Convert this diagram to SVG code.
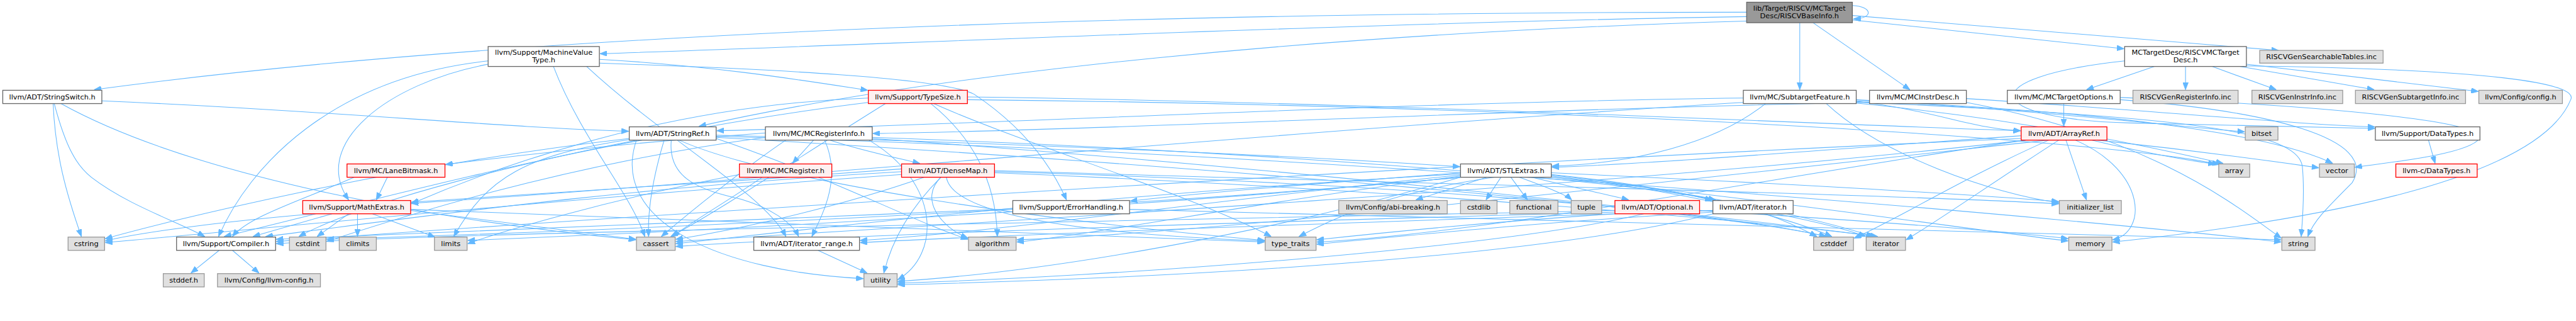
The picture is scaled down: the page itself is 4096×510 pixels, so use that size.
<svg xmlns="http://www.w3.org/2000/svg" width="4096" height="510" viewBox="0 0 4096 510">
<defs>
<marker id="ah" viewBox="0 0 13 10" refX="13" refY="5" markerWidth="13" markerHeight="10" markerUnits="userSpaceOnUse" orient="auto"><path d="M0,0L13,5L0,10z" fill="#63b8ff" stroke="#63b8ff" stroke-width="1"/></marker>
</defs>
<style>
.e path{fill:none;stroke:#63b8ff;stroke-width:1.2;marker-end:url(#ah)}
.nd rect{fill:#ffffff;stroke:#666666;stroke-width:1.5}
.ex rect{fill:#e0e0e0;stroke:#999999;stroke-width:1.5}
.rd rect{fill:#fff0f0;stroke:#ff0000;stroke-width:1.5}
.rt rect{fill:#999999;stroke:#666666;stroke-width:1.5}
text{font-family:"DejaVu Sans","Liberation Sans",sans-serif;font-size:12.9px;fill:#000000;text-anchor:middle}
</style>
<rect width="4096" height="510" fill="#ffffff"/>
<g transform="scale(0.88)">
<g id="edges" class="e">
<path d="M3156,22 C2200,22 1000,50 170,162"/>
<path d="M3156,30 C2500,40 1600,80 1084,97"/>
<path d="M3156,38 C2400,60 1700,130 1263,228"/>
<path d="M3252,41 L3252,162"/>
<path d="M3276,41 L3451,162"/>
<path d="M3347,36 L3838,88"/>
<path d="M3347,28 L4117,91"/>
<path d="M3347,10 C3385,12 3385,34 3349,34"/>
<path d="M4059,116 L4478,165"/>
<path d="M3949,120 L3949,162"/>
<path d="M3997,120 L4113,162"/>
<path d="M4047,120 L4290,162"/>
<path d="M3893,120 L3770,162"/>
<path d="M3839,110 C3560,140 3580,215 3850,222 S4200,229 4291,232"/>
<path d="M4059,119 C4500,125 4660,150 4645,180 C4600,290 4350,380 3817,437"/>
<path d="M184,182 C600,200 900,230 1136,237"/>
<path d="M98,187 C120,270 140,300 165,320 C230,370 320,400 370,427"/>
<path d="M110,187 C350,320 800,400 1149,433"/>
<path d="M96,187 C100,280 120,350 147,427"/>
<path d="M1083,107 C1300,120 1450,145 1568,163"/>
<path d="M1083,114 C1400,125 1700,140 1760,170 C1850,230 1900,300 1927,361"/>
<path d="M882,110 C600,140 450,300 395,427"/>
<path d="M882,116 C700,150 560,260 630,361"/>
<path d="M1000,120 C1050,250 1140,350 1165,427"/>
<path d="M1060,120 C1200,250 1380,350 1420,427"/>
<path d="M1748,175 C2500,185 3300,225 3651,236"/>
<path d="M1569,177 C1200,190 900,300 743,368"/>
<path d="M1682,187 C1760,250 1800,330 1802,427"/>
<path d="M1748,180 C2800,190 3800,250 4010,297"/>
<path d="M1600,187 C1450,280 1300,380 1212,427"/>
<path d="M1569,185 C1200,230 700,340 540,427"/>
<path d="M1687,187 C1850,260 2150,350 2297,427"/>
<path d="M1294,244 C1900,260 2400,285 2638,301"/>
<path d="M1213,253 C1205,330 1280,345 1340,360 C1390,375 1430,400 1443,427"/>
<path d="M1160,253 C900,300 600,380 405,427"/>
<path d="M1294,250 C1500,320 1650,400 1749,432"/>
<path d="M1200,253 C1180,320 1170,380 1172,427"/>
<path d="M1294,248 C2200,300 3100,380 3300,427"/>
<path d="M1137,250 C700,300 300,400 190,431"/>
<path d="M1137,252 C950,280 880,320 820,427"/>
<path d="M1294,246 C2500,280 3800,400 4122,437"/>
<path d="M1227,253 C1400,330 1900,400 2285,434"/>
<path d="M1150,253 C1100,400 1300,490 1560,503"/>
<path d="M1500,253 C1550,270 1620,285 1662,295"/>
<path d="M1576,248 C2200,270 2900,320 3100,361"/>
<path d="M1490,253 C1520,320 1490,380 1467,427"/>
<path d="M1383,240 C1100,260 900,285 805,297"/>
<path d="M1470,253 L1432,295"/>
<path d="M1420,253 C1350,300 1250,380 1195,427"/>
<path d="M1383,248 C1000,300 700,400 590,436"/>
<path d="M1576,250 C2300,300 3100,390 3393,427"/>
<path d="M1570,253 C1700,330 1700,460 1622,505"/>
<path d="M3652,245 C3300,270 3000,295 2804,302"/>
<path d="M3652,250 C2500,300 1000,400 499,436"/>
<path d="M3700,253 C3000,330 2200,420 1837,433"/>
<path d="M3780,253 C3850,270 3950,290 4003,296"/>
<path d="M3660,253 C3000,330 1800,400 1221,436"/>
<path d="M3702,253 C3550,320 3420,400 3350,430"/>
<path d="M3733,253 L3770,361"/>
<path d="M3720,253 C3600,330 3500,400 3444,433"/>
<path d="M3750,253 C3880,310 3880,420 3817,433"/>
<path d="M3660,253 C3200,320 2700,420 2379,437"/>
<path d="M3790,253 C3950,270 4100,290 4190,303"/>
<path d="M4388,253 L4400,295"/>
<path d="M640,320 C550,360 450,390 420,427"/>
<path d="M700,320 L680,361"/>
<path d="M1377,320 C1320,360 1250,400 1215,427"/>
<path d="M1336,315 C1100,360 900,420 845,440"/>
<path d="M1629,310 C1100,340 700,400 480,427"/>
<path d="M1629,305 C1300,330 900,355 743,365"/>
<path d="M1700,320 C1660,360 1700,410 1749,430"/>
<path d="M1670,320 C1500,380 1300,420 1221,432"/>
<path d="M1797,310 C2500,330 3100,380 3300,427"/>
<path d="M1629,315 C1000,360 400,420 190,438"/>
<path d="M1797,308 C2500,330 3400,350 3720,368"/>
<path d="M1797,312 C2500,340 3200,400 3390,427"/>
<path d="M1710,320 C1720,380 1900,420 2285,435"/>
<path d="M1700,320 C1640,380 1610,440 1597,493"/>
<path d="M2767,320 C2850,340 2920,355 2943,361"/>
<path d="M2803,315 C2950,330 3050,350 3094,362"/>
<path d="M2639,316 C2200,360 1800,420 1554,434"/>
<path d="M2687,320 L2558,361"/>
<path d="M2639,312 C2400,330 2200,345 2042,363"/>
<path d="M2639,318 C2300,360 2000,420 1837,437"/>
<path d="M2639,314 C2000,350 1500,410 1221,440"/>
<path d="M2803,318 C3000,340 3200,380 3310,427"/>
<path d="M2639,320 C2000,380 1000,420 590,432"/>
<path d="M2712,320 L2685,361"/>
<path d="M2730,320 L2760,361"/>
<path d="M2803,312 C3200,330 3550,350 3720,364"/>
<path d="M2803,316 C3100,350 3300,400 3385,427"/>
<path d="M2639,320 C2000,380 1200,420 845,434"/>
<path d="M2803,320 C3200,360 3600,420 3737,435"/>
<path d="M2745,320 C2800,340 2830,352 2840,361"/>
<path d="M2700,320 C2500,350 2420,390 2347,427"/>
<path d="M2639,320 C2300,420 1900,490 1622,508"/>
<path d="M600,386 C550,400 500,415 457,427"/>
<path d="M742,380 C900,400 1050,420 1149,432"/>
<path d="M646,386 L646,427"/>
<path d="M630,386 L573,427"/>
<path d="M567,386 C400,400 250,420 190,435"/>
<path d="M673,386 L786,428"/>
<path d="M742,378 C1300,400 1900,420 2285,437"/>
<path d="M1830,377 C1300,400 700,420 499,432"/>
<path d="M2041,378 C3000,400 3800,420 4122,433"/>
<path d="M2918,380 C2000,400 800,420 499,440"/>
<path d="M2918,383 C2300,400 1600,420 1221,445"/>
<path d="M3071,380 C3400,400 3650,420 3737,431"/>
<path d="M2918,386 C2700,400 2500,420 2379,433"/>
<path d="M2970,386 C2700,450 2000,500 1622,511"/>
<path d="M3095,380 C2500,400 1900,420 1554,438"/>
<path d="M3190,386 C3230,400 3260,415 3283,427"/>
<path d="M3210,386 C3280,400 3340,415 3371,427"/>
<path d="M3095,383 C2800,400 2600,420 2379,441"/>
<path d="M3095,386 C2800,460 2200,500 1622,514"/>
<path d="M1478,452 L1567,493"/>
<path d="M396,452 L345,493"/>
<path d="M420,452 L468,493"/>
<path d="M3729,187 L3729,228"/>
<path d="M3831,180 C4100,200 4300,250 4250,330 C4200,380 4180,400 4170,427"/>
<path d="M3831,176 C4200,190 4500,220 4480,250 C4460,280 4300,295 4255,302"/>
<path d="M3150,177 C2500,185 1800,225 1295,236"/>
<path d="M3354,183 C3500,200 3560,232 3651,236"/>
<path d="M3190,187 C3100,260 2950,295 2804,300"/>
<path d="M3150,185 C2400,230 1200,340 743,367"/>
<path d="M3354,186 C3700,220 3950,280 4017,295"/>
<path d="M3354,180 C3700,200 3950,230 4056,238"/>
<path d="M3300,187 C3400,280 3600,350 3720,366"/>
<path d="M3354,184 C3900,210 4150,230 4160,300 C4165,350 4160,400 4158,427"/>
<path d="M3354,182 C3800,200 4100,240 4215,295"/>
<path d="M3378,185 C2800,195 2000,235 1577,241"/>
<path d="M3553,178 C3900,200 4150,225 4291,229"/>
<path d="M3553,185 C3900,250 4050,380 4122,430"/>
</g>
<g id="n_root" class="rt"><rect x="3156" y="4" width="191" height="37"/><text x="3251.5" y="19">lib/Target/RISCV/MCTarget</text><text x="3251.5" y="32.5">Desc/RISCVBaseInfo.h</text></g>
<g id="n_stringswitch" class="nd"><rect x="5" y="163" width="179" height="24"/><text x="94.5" y="179.5">llvm/ADT/StringSwitch.h</text></g>
<g id="n_mvt" class="nd"><rect x="882" y="84" width="201" height="36"/><text x="982.5" y="99">llvm/Support/MachineValue</text><text x="982.5" y="112.5">Type.h</text></g>
<g id="n_mctargetdesc" class="nd"><rect x="3839" y="84" width="220" height="36"/><text x="3949" y="99">MCTargetDesc/RISCVMCTarget</text><text x="3949" y="112.5">Desc.h</text></g>
<g id="n_searchable" class="ex"><rect x="4083" y="91" width="223" height="23"/><text x="4194.5" y="107">RISCVGenSearchableTables.inc</text></g>
<g id="n_typesize" class="rd"><rect x="1569" y="163" width="179" height="24"/><text x="1658.5" y="179.5">llvm/Support/TypeSize.h</text></g>
<g id="n_subtargetfeature" class="nd"><rect x="3150" y="163" width="204" height="24"/><text x="3252" y="179.5">llvm/MC/SubtargetFeature.h</text></g>
<g id="n_mcinstrdesc" class="nd"><rect x="3378" y="163" width="175" height="24"/><text x="3465.5" y="179.5">llvm/MC/MCInstrDesc.h</text></g>
<g id="n_mctargetoptions" class="nd"><rect x="3627" y="163" width="204" height="24"/><text x="3729" y="179.5">llvm/MC/MCTargetOptions.h</text></g>
<g id="n_genreg" class="ex"><rect x="3854" y="163" width="190" height="24"/><text x="3949" y="179.5">RISCVGenRegisterInfo.inc</text></g>
<g id="n_geninstr" class="ex"><rect x="4069" y="163" width="164" height="24"/><text x="4151" y="179.5">RISCVGenInstrInfo.inc</text></g>
<g id="n_gensub" class="ex"><rect x="4256" y="163" width="199" height="24"/><text x="4355.5" y="179.5">RISCVGenSubtargetInfo.inc</text></g>
<g id="n_config" class="ex"><rect x="4479" y="163" width="151" height="24"/><text x="4554.5" y="179.5">llvm/Config/config.h</text></g>
<g id="n_stringref" class="nd"><rect x="1137" y="229" width="157" height="24"/><text x="1215.5" y="245.5">llvm/ADT/StringRef.h</text></g>
<g id="n_mcreginfo" class="nd"><rect x="1383" y="229" width="193" height="24"/><text x="1479.5" y="245.5">llvm/MC/MCRegisterInfo.h</text></g>
<g id="n_arrayref" class="rd"><rect x="3652" y="229" width="155" height="24"/><text x="3729.5" y="245.5">llvm/ADT/ArrayRef.h</text></g>
<g id="n_bitset" class="ex"><rect x="4057" y="229" width="59" height="24"/><text x="4086.5" y="245.5">bitset</text></g>
<g id="n_datatypes" class="nd"><rect x="4292" y="229" width="189" height="24"/><text x="4386.5" y="245.5">llvm/Support/DataTypes.h</text></g>
<g id="n_lanebitmask" class="rd"><rect x="627" y="296" width="177" height="24"/><text x="715.5" y="312.5">llvm/MC/LaneBitmask.h</text></g>
<g id="n_mcregister" class="rd"><rect x="1336" y="296" width="167" height="24"/><text x="1419.5" y="312.5">llvm/MC/MCRegister.h</text></g>
<g id="n_densemap" class="rd"><rect x="1629" y="296" width="168" height="24"/><text x="1713" y="312.5">llvm/ADT/DenseMap.h</text></g>
<g id="n_stlextras" class="nd"><rect x="2639" y="296" width="164" height="24"/><text x="2721" y="312.5">llvm/ADT/STLExtras.h</text></g>
<g id="n_array" class="ex"><rect x="4009" y="296" width="56" height="24"/><text x="4037" y="312.5">array</text></g>
<g id="n_vector" class="ex"><rect x="4191" y="296" width="63" height="24"/><text x="4222.5" y="312.5">vector</text></g>
<g id="n_cdatatypes" class="rd"><rect x="4329" y="296" width="147" height="24"/><text x="4402.5" y="312.5">llvm-c/DataTypes.h</text></g>
<g id="n_mathextras" class="rd"><rect x="547" y="362" width="195" height="24"/><text x="644.5" y="378.5">llvm/Support/MathExtras.h</text></g>
<g id="n_errorhandling" class="nd"><rect x="1830" y="362" width="211" height="24"/><text x="1935.5" y="378.5">llvm/Support/ErrorHandling.h</text></g>
<g id="n_abibreaking" class="ex"><rect x="2419" y="362" width="196" height="24"/><text x="2517" y="378.5">llvm/Config/abi-breaking.h</text></g>
<g id="n_cstdlib" class="ex"><rect x="2639" y="362" width="66" height="24"/><text x="2672" y="378.5">cstdlib</text></g>
<g id="n_functional" class="ex"><rect x="2728" y="362" width="87" height="24"/><text x="2771.5" y="378.5">functional</text></g>
<g id="n_tuple" class="ex"><rect x="2839" y="362" width="55" height="24"/><text x="2866.5" y="378.5">tuple</text></g>
<g id="n_optional" class="rd"><rect x="2918" y="362" width="153" height="24"/><text x="2994.5" y="378.5">llvm/ADT/Optional.h</text></g>
<g id="n_iteratorh" class="nd"><rect x="3095" y="362" width="145" height="24"/><text x="3167.5" y="378.5">llvm/ADT/iterator.h</text></g>
<g id="n_initlist" class="ex"><rect x="3721" y="362" width="112" height="24"/><text x="3777" y="378.5">initializer_list</text></g>
<g id="n_cstring" class="ex"><rect x="123" y="428" width="66" height="24"/><text x="156" y="444.5">cstring</text></g>
<g id="n_compiler" class="nd"><rect x="319" y="428" width="179" height="24"/><text x="408.5" y="444.5">llvm/Support/Compiler.h</text></g>
<g id="n_cstdint" class="ex"><rect x="523" y="428" width="66" height="24"/><text x="556" y="444.5">cstdint</text></g>
<g id="n_climits" class="ex"><rect x="613" y="428" width="67" height="24"/><text x="646.5" y="444.5">climits</text></g>
<g id="n_limits" class="ex"><rect x="785" y="428" width="59" height="24"/><text x="814.5" y="444.5">limits</text></g>
<g id="n_cassert" class="ex"><rect x="1150" y="428" width="70" height="24"/><text x="1185" y="444.5">cassert</text></g>
<g id="n_iterrange" class="nd"><rect x="1362" y="428" width="191" height="24"/><text x="1457.5" y="444.5">llvm/ADT/iterator_range.h</text></g>
<g id="n_algorithm" class="ex"><rect x="1750" y="428" width="86" height="24"/><text x="1793" y="444.5">algorithm</text></g>
<g id="n_typetraits" class="ex"><rect x="2286" y="428" width="92" height="24"/><text x="2332" y="444.5">type_traits</text></g>
<g id="n_cstddef" class="ex"><rect x="3277" y="428" width="72" height="24"/><text x="3313" y="444.5">cstddef</text></g>
<g id="n_iterator" class="ex"><rect x="3372" y="428" width="71" height="24"/><text x="3407.5" y="444.5">iterator</text></g>
<g id="n_memory" class="ex"><rect x="3738" y="428" width="78" height="24"/><text x="3777" y="444.5">memory</text></g>
<g id="n_string" class="ex"><rect x="4123" y="428" width="60" height="24"/><text x="4153" y="444.5">string</text></g>
<g id="n_stddef" class="ex"><rect x="295" y="494" width="74" height="24"/><text x="332" y="510.5">stddef.h</text></g>
<g id="n_llvmconfig" class="ex"><rect x="393" y="494" width="186" height="24"/><text x="486" y="510.5">llvm/Config/llvm-config.h</text></g>
<g id="n_utility" class="ex"><rect x="1561" y="494" width="60" height="24"/><text x="1591" y="510.5">utility</text></g>
</g>
</svg>
